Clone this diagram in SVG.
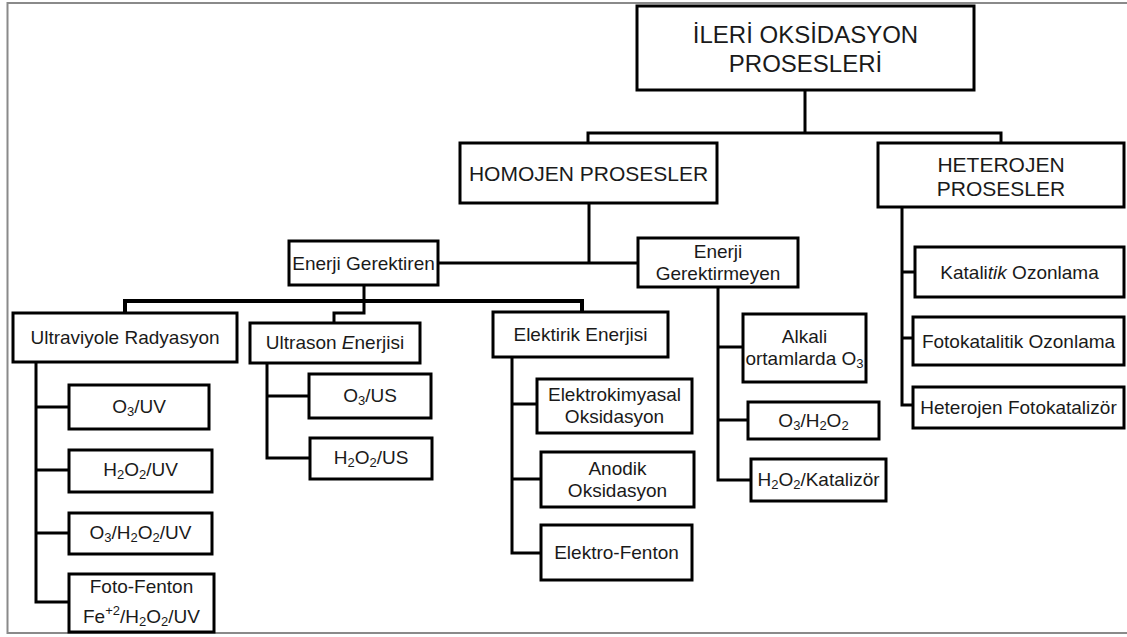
<svg xmlns="http://www.w3.org/2000/svg" width="1127" height="637" viewBox="0 0 1127 637">
<style>
.box{fill:#fff;stroke:#000;stroke-width:3}
.c{fill:none;stroke:#000;stroke-width:3;stroke-linecap:square}
.t{font-family:"Liberation Sans",Arial,sans-serif;font-size:19px;fill:#1a1a1a;text-anchor:middle;dominant-baseline:central}
.big{font-size:24px}
.mid{font-size:21px}
.sub{font-size:13px}
.frame{fill:none;stroke:#8a8a8a;stroke-width:2}
</style>
<rect width="1127" height="637" fill="#fff"/>
<path class="frame" d="M1127,3 H7.5 V633 H1127"/>
<g id="connectors">
<path class="c" d="M805,90 V133 M588,133 H1001 M588,133 V143 M1001,133 V143"/>
<path class="c" d="M589,203 V263 M438,263 H638"/>
<path class="c" d="M364,285 V313 H334 V323"/>
<path class="c" style="stroke-width:4" d="M125,301 H582 V312 M125,301 V313"/>
<path class="c" d="M36,362 V602 H69 M36,407 H69 M36,470 H69 M36,533 H69"/>
<path class="c" d="M267,363 V458 H310 M267,396 H309"/>
<path class="c" d="M512,357 V553 H541 M512,404 H537 M512,479 H541"/>
<path class="c" d="M718,287 V480 H751 M718,347 H743 M718,420 H748"/>
<path class="c" d="M902,207 V405 H913 M902,272 H915 M902,338 H913"/>
</g>
<g id="n-top"><rect class="box" x="637" y="6" width="337" height="84"/>
<text class="t big" x="805.5" y="34">İLERİ OKSİDASYON</text><text class="t big" x="805.5" y="63">PROSESLERİ</text></g>
<g id="n-homojen"><rect class="box" x="460" y="143" width="257" height="60"/>
<text class="t mid" x="588.5" y="173">HOMOJEN PROSESLER</text></g>
<g id="n-heterojen"><rect class="box" x="878" y="143" width="246" height="64"/>
<text class="t mid" x="1001" y="164">HETEROJEN</text><text class="t mid" x="1001" y="188">PROSESLER</text></g>
<g id="n-eg"><rect class="box" x="289" y="241" width="149" height="44"/>
<text class="t" x="363.5" y="263">Enerji Gerektiren</text></g>
<g id="n-egm"><rect class="box" x="638" y="238" width="160" height="49"/>
<text class="t" x="718" y="251">Enerji</text><text class="t" x="718" y="273">Gerektirmeyen</text></g>
<g id="n-uv"><rect class="box" x="13" y="313" width="224" height="49"/>
<text class="t" x="125" y="337">Ultraviyole Radyasyon</text></g>
<g id="n-us"><rect class="box" x="250" y="323" width="170" height="40"/>
<text class="t" x="335" y="342">Ultrason <tspan font-style="italic">E</tspan>nerjisi</text></g>
<g id="n-el"><rect class="box" x="493" y="312" width="175" height="45"/>
<text class="t" x="580.5" y="334">Elektirik Enerjisi</text></g>
<g id="n-o3uv"><rect class="box" x="69" y="385" width="140" height="44"/>
<text class="t" x="139" y="406">O<tspan class="sub" baseline-shift="-5">3</tspan>/UV</text></g>
<g id="n-h2o2uv"><rect class="box" x="69" y="450" width="143" height="42"/>
<text class="t" x="140.5" y="469">H<tspan class="sub" baseline-shift="-5">2</tspan>O<tspan class="sub" baseline-shift="-5">2</tspan>/UV</text></g>
<g id="n-o3h2o2uv"><rect class="box" x="69" y="513" width="143" height="41"/>
<text class="t" x="140.5" y="532">O<tspan class="sub" baseline-shift="-5">3</tspan>/H<tspan class="sub" baseline-shift="-5">2</tspan>O<tspan class="sub" baseline-shift="-5">2</tspan>/UV</text></g>
<g id="n-fotofenton"><rect class="box" x="69" y="574" width="145" height="58"/>
<text class="t" x="141.5" y="586">Foto-Fenton</text>
<text class="t" x="141.5" y="616">Fe<tspan class="sub" baseline-shift="6">+2</tspan>/H<tspan class="sub" baseline-shift="-5">2</tspan>O<tspan class="sub" baseline-shift="-5">2</tspan>/UV</text></g>
<g id="n-o3us"><rect class="box" x="309" y="374" width="122" height="44"/>
<text class="t" x="370" y="395">O<tspan class="sub" baseline-shift="-5">3</tspan>/US</text></g>
<g id="n-h2o2us"><rect class="box" x="310" y="438" width="122" height="41"/>
<text class="t" x="371" y="457">H<tspan class="sub" baseline-shift="-5">2</tspan>O<tspan class="sub" baseline-shift="-5">2</tspan>/US</text></g>
<g id="n-ek"><rect class="box" x="537" y="379" width="155" height="54"/>
<text class="t" x="614.5" y="394">Elektrokimyasal</text><text class="t" x="614.5" y="416">Oksidasyon</text></g>
<g id="n-ao"><rect class="box" x="541" y="452" width="153" height="55"/>
<text class="t" x="617.5" y="468">Anodik</text><text class="t" x="617.5" y="490">Oksidasyon</text></g>
<g id="n-ef"><rect class="box" x="541" y="525" width="151" height="55"/>
<text class="t" x="616.5" y="552">Elektro-Fenton</text></g>
<g id="n-alkali"><rect class="box" x="743" y="314" width="123" height="68"/>
<text class="t" x="804.5" y="336">Alkali</text><text class="t" x="804.5" y="358">ortamlarda O<tspan class="sub" baseline-shift="-5">3</tspan></text></g>
<g id="n-o3h2o2"><rect class="box" x="748" y="402" width="131" height="37"/>
<text class="t" x="813.5" y="420">O<tspan class="sub" baseline-shift="-5">3</tspan>/H<tspan class="sub" baseline-shift="-5">2</tspan>O<tspan class="sub" baseline-shift="-5">2</tspan></text></g>
<g id="n-h2o2kat"><rect class="box" x="751" y="459" width="135" height="42"/>
<text class="t" x="818.5" y="479">H<tspan class="sub" baseline-shift="-5">2</tspan>O<tspan class="sub" baseline-shift="-5">2</tspan>/Katalizör</text></g>
<g id="n-kat"><rect class="box" x="915" y="247" width="209" height="50"/>
<text class="t" x="1019.5" y="272">Katali<tspan font-style="italic">tik</tspan> Ozonlama</text></g>
<g id="n-fotokat"><rect class="box" x="913" y="317" width="211" height="48"/>
<text class="t" x="1018.5" y="341">Fotokatalitik Ozonlama</text></g>
<g id="n-hetfoto"><rect class="box" x="913" y="387" width="211" height="41"/>
<text class="t" x="1018.5" y="407">Heterojen Fotokatalizör</text></g>
</svg>
